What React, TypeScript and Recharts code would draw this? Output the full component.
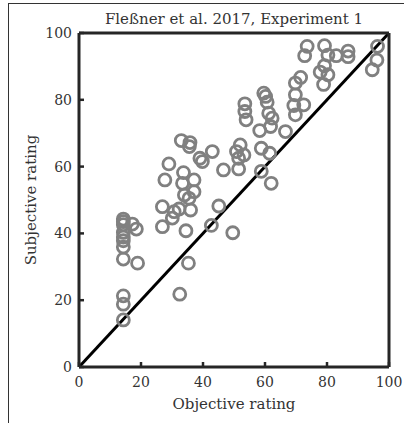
import React from 'react';
import { ScatterChart, Scatter, XAxis, YAxis, ReferenceLine } from 'recharts';

const objectiveRating: number[] = [
  14.3, 14.3, 14.3, 14.3, 14.3, 14.3, 14.3, 14.3, 14.3, 14.3, 14.3, 17.2, 18.5, 18.9,
  26.9, 26.9, 27.7, 29.0, 30.1, 30.7, 32.3, 33.0, 35.8, 35.6, 33.7, 33.4, 34.0, 35.5,
  37.1, 37.1, 36.0, 34.5, 35.3, 32.5, 39.0, 39.8, 43.0, 42.7, 45.1, 46.6, 49.6,
  50.8, 52.0, 53.2, 51.5, 51.5, 58.8, 61.5, 58.8, 62.0,
  53.5, 53.5, 53.9, 59.6, 60.2, 60.7, 61.2, 62.3, 61.8, 58.3, 66.6,
  69.8, 69.8, 69.3, 72.5, 69.8, 71.5,
  73.6, 72.8, 79.2, 80.3, 83.0, 86.8, 86.8, 79.2, 77.8, 80.3, 78.9, 96.3, 96.1, 94.6,
];

const subjectiveRating: number[] = [
  44.3, 43.5, 42.6, 40.3, 38.9, 37.8, 35.9, 32.3, 21.3, 18.8, 14.1, 42.8, 41.3, 31.1,
  48.0, 42.0, 56.0, 60.8, 44.6, 46.5, 47.3, 67.8, 67.2, 66.0, 58.2, 55.0, 51.5, 50.5,
  56.0, 52.5, 47.0, 40.8, 31.1, 21.8, 62.5, 61.5, 64.5, 42.4, 48.2, 59.0, 40.2,
  64.5, 66.5, 63.5, 59.3, 62.5, 65.5, 64.0, 58.6, 55.0,
  78.8, 76.5, 74.0, 82.0, 81.0, 79.3, 76.0, 74.5, 72.0, 70.8, 70.5,
  85.0, 81.5, 78.3, 78.5, 75.5, 86.7,
  96.0, 93.2, 96.2, 93.4, 93.2, 94.6, 92.9, 90.2, 88.3, 87.5, 84.6, 96.0, 91.9, 89.0,
];

const tickValues: number[] = [0, 20, 40, 60, 80, 100];
const titleText = 'Fleßner et al. 2017, Experiment 1';
const xLabelText = 'Objective rating';
const yLabelText = 'Subjective rating';

const points = objectiveRating.map((x, i) => ({ x, y: subjectiveRating[i] }));

const FONT = '"DejaVu Serif", serif';
const AXIS = '#262626';
const TEXT = '#333333';

const Ring = (props: any) => (
  <circle cx={props.cx} cy={props.cy} r={6} fill="none" stroke="#808080" strokeWidth={2.8} />
);

export default function App() {
  return (
    <div style={{ position: 'absolute', left: 0, top: 0, width: 404, height: 423, background: '#fff', overflow: 'hidden' }}>
      <div
        style={{
          position: 'absolute', left: 8, top: 3, width: 404, height: 430,
          borderLeft: '1px solid #333', borderTop: '1px solid #333', boxSizing: 'border-box',
        }}
      />
      <div
        style={{
          position: 'absolute', left: 79, top: 9, width: 310, textAlign: 'center',
          fontFamily: FONT, fontSize: 15, lineHeight: '20px', color: TEXT, whiteSpace: 'nowrap',
        }}
      >
        {titleText}
      </div>
      <div style={{ position: 'absolute', left: 0, top: 0 }}>
        <ScatterChart width={404} height={423} margin={{ top: 33, right: 15, bottom: 0, left: 0 }}>
          <XAxis
            xAxisId="b" type="number" dataKey="x" orientation="bottom" height={56}
            domain={[0, 100]} allowDataOverflow ticks={tickValues} interval={0}
            axisLine={{ stroke: AXIS, strokeWidth: 3 }}
            tickLine={{ stroke: AXIS, strokeWidth: 2.5 }} tickSize={-5} tickMargin={15}
            tick={{ fill: TEXT, fontSize: 14, fontFamily: FONT }}
            label={{ value: xLabelText, position: 'insideBottom', offset: 14, fill: TEXT, fontSize: 15, fontFamily: FONT }}
          />
          <XAxis
            xAxisId="t" type="number" orientation="top" mirror height={30}
            domain={[0, 100]} allowDataOverflow ticks={tickValues} interval={0}
            axisLine={{ stroke: AXIS, strokeWidth: 3 }}
            tickLine={{ stroke: AXIS, strokeWidth: 2.5 }} tickSize={5} tick={false}
          />
          <YAxis
            yAxisId="l" type="number" dataKey="y" orientation="left" width={79}
            domain={[0, 100]} allowDataOverflow ticks={tickValues} interval={0}
            axisLine={{ stroke: AXIS, strokeWidth: 3 }}
            tickLine={{ stroke: AXIS, strokeWidth: 2.5 }} tickSize={-5} tickMargin={12}
            tick={{ fill: TEXT, fontSize: 14, fontFamily: FONT }}
            label={{ value: yLabelText, angle: -90, position: 'insideLeft', offset: 31, fill: TEXT, fontSize: 15, fontFamily: FONT, style: { textAnchor: 'middle' } }}
          />
          <YAxis
            yAxisId="r" type="number" orientation="right" mirror width={30}
            domain={[0, 100]} allowDataOverflow ticks={tickValues} interval={0}
            axisLine={{ stroke: AXIS, strokeWidth: 3 }}
            tickLine={{ stroke: AXIS, strokeWidth: 2.5 }} tickSize={5} tick={false}
          />
          <Scatter xAxisId="b" yAxisId="l" data={points} shape={Ring} isAnimationActive={false} />
          <ReferenceLine
            xAxisId="b" yAxisId="l"
            segment={[{ x: 0, y: 0 }, { x: 100, y: 100 }]}
            stroke="#000" strokeWidth={3} ifOverflow="visible"
          />
        </ScatterChart>
      </div>
    </div>
  );
}
